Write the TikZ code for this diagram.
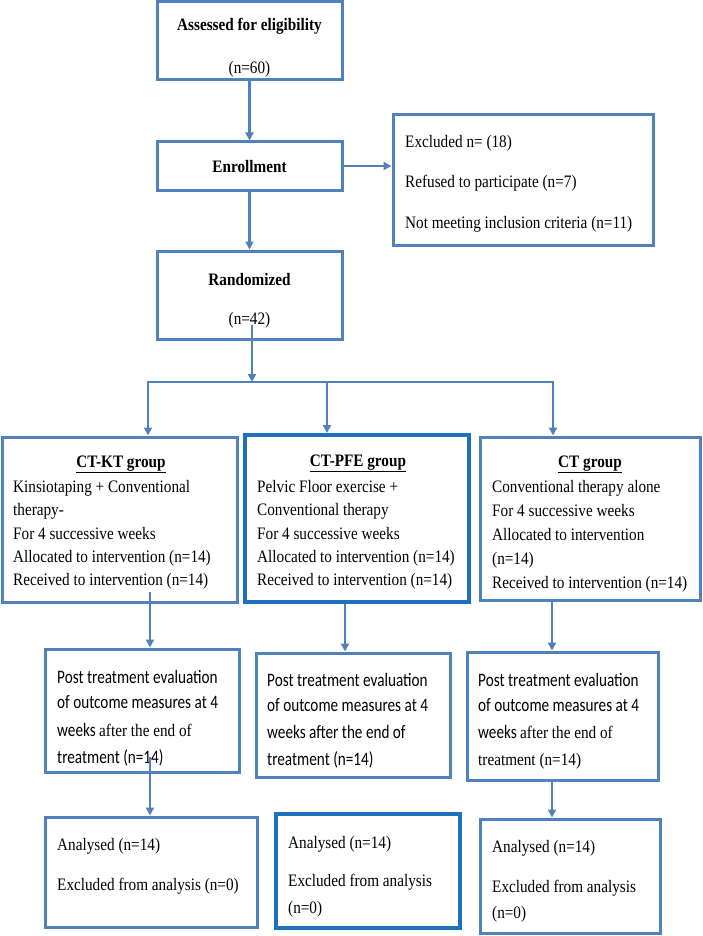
\documentclass[tikz,border=0pt]{standalone}
\usepackage{fontspec}
\setmainfont{Liberation Serif}[FakeStretch=0.87]
\newfontfamily\calib{Carlito}[FakeStretch=0.8]
\usetikzlibrary{arrows.meta}
\definecolor{boxblue}{RGB}{79,129,189}
\definecolor{darkblue}{RGB}{30,112,192}
\tikzset{
  box/.style={draw=boxblue, line width=3pt, rectangle, inner sep=0pt},
  thickbox/.style={box, draw=darkblue, line width=4pt},
  conn/.style={draw=boxblue, line width=2.8pt},
  arr/.style={conn, -{Triangle[length=8pt,width=8pt]}},
  txt/.style={anchor=base west, inner sep=0pt, font=\fontsize{17.5}{20}\selectfont},
  ctxt/.style={txt, anchor=base},
  stxt/.style={txt, font=\fontsize{19}{22}\selectfont\calib},
}
\begin{document}
\begin{tikzpicture}[x=1pt, y=-1pt]
\useasboundingbox[fill=white] (0,0) rectangle (702,936);

% boxes
\node[box, minimum width=185pt, minimum height=78pt] (assess) at (249.5,41) {};
\node[box, minimum width=185pt, minimum height=48pt] (enroll) at (249.5,166) {};
\node[box, minimum width=260pt, minimum height=130pt] (excl) at (523,180) {};
\node[box, minimum width=185pt, minimum height=88pt] (random) at (249.5,295) {};
\node[box, minimum width=235pt, minimum height=165pt] (ctkt) at (119.5,519.5) {};
\node[thickbox, minimum width=224pt, minimum height=167pt] (ctpfe) at (357,518.5) {};
\node[box, minimum width=220pt, minimum height=163pt] (ct) at (590,518.5) {};
\node[box, minimum width=194pt, minimum height=123pt] (post1) at (142,710.5) {};
\node[box, minimum width=194pt, minimum height=124pt] (post2) at (353,715) {};
\node[box, minimum width=191pt, minimum height=128pt] (post3) at (562.5,716) {};
\node[box, minimum width=212pt, minimum height=110pt] (an1) at (151,872) {};
\node[thickbox, minimum width=184pt, minimum height=114pt] (an2) at (368,871) {};
\node[box, minimum width=180pt, minimum height=114pt] (an3) at (570,876) {};

% texts
\node[ctxt] (t1) at (249.5,31) {\bfseries Assessed for eligibility};
\node[ctxt] (t2) at (249.5,74) {(n=60)};
\node[ctxt] (t3) at (249.5,173) {\bfseries Enrollment};
\node[txt] (t4) at (405,148) {Excluded n= (18)};
\node[txt] (t5) at (405,188) {Refused to participate (n=7)};
\node[txt] (t6) at (405,228) {Not meeting inclusion criteria (n=11)};
\node[ctxt] (t7) at (249.5,285) {\bfseries Randomized};
\node[ctxt] (t8) at (249.5,324) {(n=42)};

\node[ctxt] (g1a) at (121,467) {\bfseries\underline{CT-KT group}};
\node[txt] (g1b) at (13,492) {Kinsiotaping + Conventional};
\node[txt] (g1c) at (13,515) {therapy-};
\node[txt] (g1d) at (13,539) {For 4 successive weeks};
\node[txt] (g1e) at (13,562) {Allocated to intervention (n=14)};
\node[txt] (g1f) at (13,585) {Received to intervention (n=14)};

\node[ctxt] (g2a) at (358,466) {\bfseries\underline{CT-PFE group}};
\node[txt] (g2b) at (257,492) {Pelvic Floor exercise +};
\node[txt] (g2c) at (257,515) {Conventional therapy};
\node[txt] (g2d) at (257,539) {For 4 successive weeks};
\node[txt] (g2e) at (257,562) {Allocated to intervention (n=14)};
\node[txt] (g2f) at (257,585) {Received to intervention (n=14)};

\node[ctxt] (g3a) at (590,467) {\bfseries\underline{CT group}};
\node[txt] (g3b) at (492,492) {Conventional therapy alone};
\node[txt] (g3c) at (492,516) {For 4 successive weeks};
\node[txt] (g3d) at (492,540) {Allocated to intervention};
\node[txt] (g3e) at (492,564) {(n=14)};
\node[txt] (g3f) at (492,588) {Received to intervention (n=14)};

\node[stxt] (p1a) at (57,683) {Post treatment evaluation};
\node[stxt] (p1b) at (57,708) {of outcome measures at 4};
\node[stxt] (p1c) at (57,736) {weeks {\rmfamily\fontsize{17.5}{20}\selectfont after the end of}};
\node[stxt] (p1d) at (57,763) {treatment (n=14)};

\node[stxt] (p2a) at (267,686) {Post treatment evaluation};
\node[stxt] (p2b) at (267,711) {of outcome measures at 4};
\node[stxt] (p2c) at (267,738) {weeks after the end of};
\node[stxt] (p2d) at (267,765) {treatment (n=14)};

\node[stxt] (p3a) at (478,686) {Post treatment evaluation};
\node[stxt] (p3b) at (478,711) {of outcome measures at 4};
\node[stxt] (p3c) at (478,738) {weeks {\rmfamily\fontsize{17.5}{20}\selectfont after the end of}};
\node[txt] (p3d) at (478,765) {treatment (n=14)};

\node[txt] (a1a) at (57,850) {Analysed (n=14)};
\node[txt] (a1b) at (57,890) {Excluded from analysis (n=0)};
\node[txt] (a2a) at (288,848) {Analysed (n=14)};
\node[txt] (a2b) at (288,886) {Excluded from analysis};
\node[txt] (a2c) at (288,913) {(n=0)};
\node[txt] (a3a) at (492,852) {Analysed (n=14)};
\node[txt] (a3b) at (492,892) {Excluded from analysis};
\node[txt] (a3c) at (492,918) {(n=0)};

% connectors
\draw[arr] (assess.south) -- (enroll.north);
\draw[arr] (enroll.east) -- (enroll.east -| excl.west);
\draw[arr] (enroll.south) -- (random.north);

\coordinate (rs) at (252,325);
\coordinate (split) at (252,382);
\coordinate (hl) at (148,382);
\coordinate (hm) at (327,382);
\coordinate (hr) at (553,382);
\draw[arr] (rs) -- (split);
\draw[conn, line cap=rect] (hl) -- (hr);
\draw[arr] (hl) -- (hl |- ctkt.north);
\draw[arr] (hm) -- (hm |- ctpfe.north);
\draw[arr] (hr) -- (hr |- ct.north);

\coordinate (g1s) at (150,592);
\coordinate (g2x) at (345,0);
\coordinate (g3x) at (552,0);
\coordinate (p1s) at (150,757);
\draw[arr] (g1s) -- (g1s |- post1.north);
\draw[arr] (g2x |- ctpfe.south) -- (g2x |- post2.north);
\draw[arr] (g3x |- ct.south) -- (g3x |- post3.north);
\draw[arr] (p1s) -- (p1s |- an1.north);
\draw[arr] (g3x |- post3.south) -- (g3x |- an3.north);
\end{tikzpicture}
\end{document}
